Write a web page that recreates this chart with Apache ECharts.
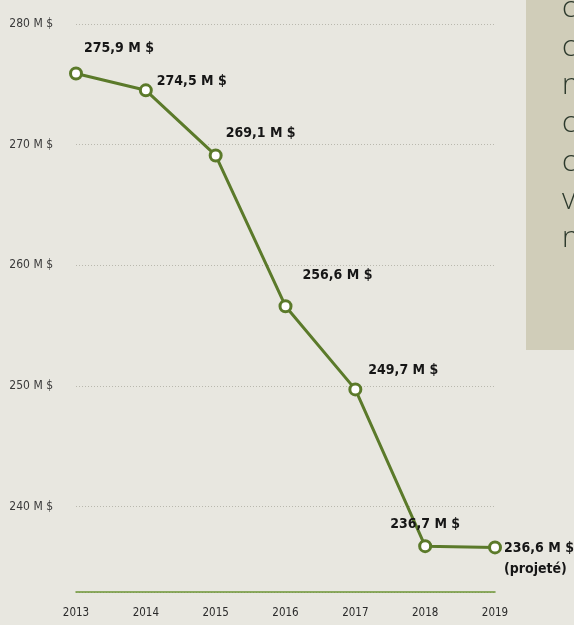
<!DOCTYPE html>
<html>
<head>
<meta charset="utf-8">
<script src="https://cdn.jsdelivr.net/npm/echarts@6/dist/echarts.min.js"></script>
<style>
html,body{margin:0;padding:0;background:#e8e7e0;}
#c{width:574px;height:625px;}
</style>
</head>
<body>
<div id="c"></div>
<script>
const years = ['2013','2014','2015','2016','2017','2018','2019'];
const revenue = [275.9, 274.5, 269.1, 256.6, 249.7, 236.7, 236.6];
const noteSuffix = ['', '', '', '', '', '', '(projeté)'];
const yTicks = [240, 250, 260, 270, 280];
const sideLetters = ['c', 'c', 'n', 'c', 'c', 'v', 'n'];

const COND = "'Liberation Sans Narrow','DejaVu Sans Condensed',Roboto,'Liberation Sans',sans-serif";
const GREEN = '#5b7a2a';

function fmt(v){ return v.toFixed(1).replace('.', ',') + ' M $'; }

const labelOffsets = [[1,-25],[4,-9],[3,-22],[10,-31],[6,-19],[-42,-22],[2,11]];

const seriesData = revenue.map((v, i) => ({
  value: v,
  label: {
    show: true,
    position: 'right',
    distance: 0,
    offset: labelOffsets[i],
    formatter: () => fmt(v) + (noteSuffix[i] ? '\n' + noteSuffix[i] : ''),
    fontFamily: COND,
    fontWeight: 'bold',
    fontSize: 14,
    lineHeight: 21,
    color: '#161616',
    align: 'left'
  }
}));

const chart = echarts.init(document.getElementById('c'), null, {renderer: 'canvas'});
chart.setOption({
  backgroundColor: '#e8e7e0',
  animation: false,
  grid: {left: 76, right: 79, top: 24, bottom: 33, outerBoundsMode: 'none', containLabel: false},
  xAxis: {
    type: 'category',
    data: years,
    boundaryGap: false,
    axisLine: {show: true, lineStyle: {color: '#6c9534', width: 1.5}},
    axisTick: {show: false},
    axisLabel: {color: '#2a2a2a', fontFamily: COND, fontSize: 11.5, margin: 15},
    splitLine: {show: false}
  },
  yAxis: {
    type: 'value',
    min: 232.9,
    max: 280,
    splitNumber: 5,
    axisLine: {show: false},
    axisTick: {show: false},
    axisLabel: {
      color: '#3a3a3a', fontFamily: COND, fontSize: 12, margin: 23,
      showMinLabel: false,
      formatter: v => (yTicks.indexOf(Math.round(v)) >= 0 && Math.abs(v - Math.round(v)) < 1e-6) ? Math.round(v) + ' M $' : ''
    },
    splitLine: {
      show: true,
      lineStyle: {color: '#b9b8ae', type: [1, 2], width: 1}
    }
  },
  series: [{
    type: 'line',
    data: seriesData,
    symbol: 'circle',
    symbolSize: 11,
    lineStyle: {color: GREEN, width: 3},
    itemStyle: {color: '#ffffff', borderColor: GREEN, borderWidth: 3},
    z: 3
  }],
  graphic: [
    {type: 'rect', left: 526, top: 0, shape: {width: 48, height: 350}, style: {fill: '#d0cdb9'}, z: 10},
    {type: 'text', left: 562, top: -10, style: {
      text: sideLetters.join('\n'), fill: '#2c392c', font: "300 29px 'Open Sans', Lato, sans-serif", lineHeight: 38.3
    }, z: 11}
  ]
});
</script>
</body>
</html>
